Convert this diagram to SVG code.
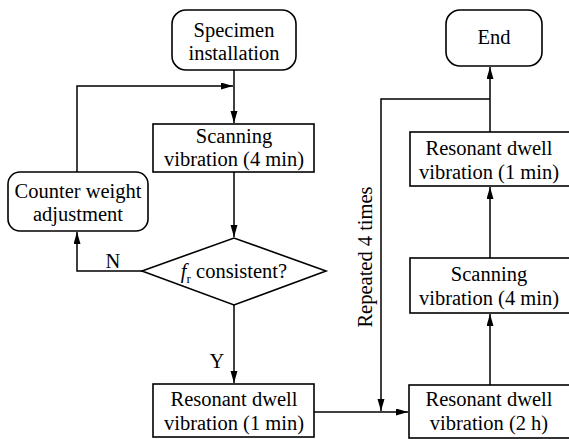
<svg xmlns="http://www.w3.org/2000/svg" width="569" height="439" viewBox="0 0 569 439" font-family="'Liberation Serif', 'DejaVu Serif', serif">
<style>
.box{fill:#fff;stroke:#000;stroke-width:1.6}
.ln{fill:none;stroke:#000;stroke-width:1.5}
text{font-family:'Liberation Serif', 'DejaVu Serif', serif;font-size:20.5px;fill:#000;text-anchor:middle}
</style>
<defs>
<marker id="ar" markerUnits="userSpaceOnUse" markerWidth="13" markerHeight="8" refX="12" refY="3.5" orient="auto">
<path d="M0,0 L12,3.5 L0,7 z" fill="#000"/>
</marker>
</defs>
<rect width="569" height="439" fill="#fff"/>
<g id="connectors">
<path class="ln" d="M234,70 V123" marker-end="url(#ar)"/>
<path class="ln" d="M77,172 V86 H233" marker-end="url(#ar)"/>
<path class="ln" d="M234,172 V237" marker-end="url(#ar)"/>
<path class="ln" d="M142,271 H77 V232" marker-end="url(#ar)"/>
<path class="ln" d="M234,305 V383" marker-end="url(#ar)"/>
<path class="ln" d="M314,412 H408" marker-end="url(#ar)"/>
<path class="ln" d="M490,99 H381 V411" marker-end="url(#ar)"/>
<path class="ln" d="M490,385 V314" marker-end="url(#ar)"/>
<path class="ln" d="M490,258 V187" marker-end="url(#ar)"/>
<path class="ln" d="M490,132 V67" marker-end="url(#ar)"/>
<text x="113" y="268">N</text>
<text x="217" y="368">Y</text>
<text transform="translate(372,257) rotate(-90)">Repeated 4 times</text>
</g>
<g id="specimen">
<rect class="box" x="172" y="10" width="124" height="60" rx="14"/>
<text x="234" y="37">Specimen</text>
<text x="234" y="60">installation</text>
</g>
<g id="scan1">
<rect class="box" x="153" y="124" width="161" height="48"/>
<text x="234" y="143">Scanning</text>
<text x="234" y="166">vibration (4 min)</text>
</g>
<g id="counter">
<rect class="box" x="8" y="172" width="140" height="59" rx="12"/>
<text x="78" y="198">Counter weight</text>
<text x="78" y="221">adjustment</text>
</g>
<g id="decision">
<polygon class="box" points="142,271 234,238 326,271 234,305"/>
<text x="234" y="278"><tspan font-style="italic">f</tspan><tspan font-size="13" dy="5">r</tspan><tspan dy="-5"> consistent?</tspan></text>
</g>
<g id="dwell1">
<rect class="box" x="153" y="384" width="161" height="53"/>
<text x="234" y="406">Resonant dwell</text>
<text x="234" y="430">vibration (1 min)</text>
</g>
<g id="dwell2h">
<rect class="box" x="409" y="385" width="161" height="53"/>
<text x="489" y="406">Resonant dwell</text>
<text x="489" y="430">vibration (2 h)</text>
</g>
<g id="scan2">
<rect class="box" x="410" y="258" width="160" height="55"/>
<text x="489" y="281">Scanning</text>
<text x="489" y="305">vibration (4 min)</text>
</g>
<g id="dwell1r">
<rect class="box" x="410" y="132" width="160" height="54"/>
<text x="489" y="155">Resonant dwell</text>
<text x="489" y="179">vibration (1 min)</text>
</g>
<g id="end">
<rect class="box" x="446" y="10" width="96" height="56" rx="14"/>
<text x="494" y="44">End</text>
</g>
</svg>
